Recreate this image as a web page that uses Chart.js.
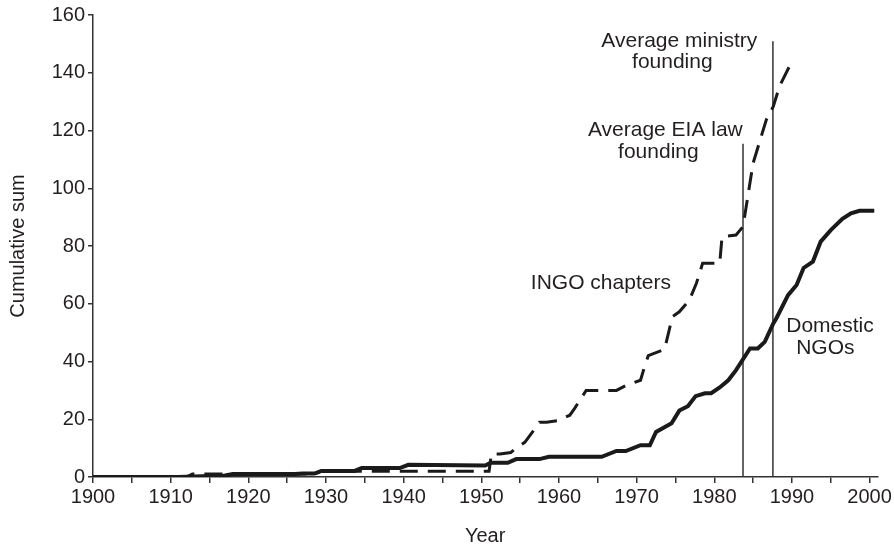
<!DOCTYPE html>
<html>
<head>
<meta charset="utf-8">
<script src="https://cdn.jsdelivr.net/npm/chart.js@4/dist/chart.umd.min.js"></script>
<style>
  html, body { margin: 0; padding: 0; background: #fff; }
  #wrap { width: 894px; height: 548px; }
</style>
</head>
<body>
<div id="wrap"><canvas id="line-chart"></canvas></div>
<script>
  // Domestic NGOs (solid line)
  var ngoYears = [1900, 1911, 1917, 1918, 1926, 1927, 1928.5, 1929.4, 1933.7, 1934.6, 1939.5, 1940.6,
    1950.5, 1951.2, 1953.4, 1954.5, 1957.5, 1958.7, 1965.5, 1967.4, 1968.6, 1970.5, 1971.7, 1972.5,
    1974.5, 1975.5, 1976.6, 1977.6, 1978.8, 1979.6, 1980.7, 1981.8, 1982.8, 1984.6, 1985.6, 1986.5,
    1987.6, 1988, 1989.5, 1990.6, 1991.5, 1992.7, 1993.7, 1995, 1996.5, 1997.6, 1998.7, 2000.6];
  var ngoValues = [0, 0, 0.5, 1, 1, 1.2, 1.2, 2.1, 2.1, 3.1, 3.1, 4.2,
    4, 4.9, 4.9, 6.2, 6.2, 7, 7, 9, 9, 11, 11, 15.6,
    18.6, 23, 24.5, 28, 29, 29, 31, 33.5, 37, 44.5, 44.5, 46.8,
    53.2, 55, 63, 66.5, 72.4, 74.6, 81.5, 85.5, 89.4, 91.3, 92.2, 92.2];

  // INGO chapters (dashed line)
  var ingoYears = [1900, 1912, 1912.8, 1917, 1928.5, 1929.4, 1951, 1951.3, 1952.4, 1953.8, 1954.5,
    1955.6, 1956.7, 1957.5, 1958.4, 1959.9, 1961.4, 1962, 1963.5, 1967.4, 1968.7, 1970.5, 1971,
    1971.5, 1973.6, 1974.6, 1975.5, 1976.8, 1977.7, 1978.5, 1980.7, 1981, 1982.8, 1983.7, 1985,
    1986.7, 1987.6, 1988.4, 1990.1];
  var ingoValues = [0, 0, 1, 1, 1, 2, 2, 8, 8, 8.5, 10,
    12, 16, 19, 19, 19.5, 21.4, 23.7, 30, 30, 31.8, 33.5, 38,
    42, 44.2, 55.5, 57.2, 61.3, 67.1, 74, 74, 83.2, 83.8, 86.7, 108.7,
    123.7, 128.3, 135.3, 144.5];

  // reference lines
  var eiaYear = 1983.7, eiaTop = 115.4;
  var ministryYear = 1987.55, ministryTop = 150.9;

  var xTicks = [1900, 1910, 1920, 1930, 1940, 1950, 1960, 1970, 1980, 1990, 2000];

  function toPoints(xs, ys) {
    var pts = [];
    for (var i = 0; i < xs.length; i++) pts.push({ x: xs[i], y: ys[i] });
    return pts;
  }

  // text labels, anchored in data units
  var notes = [
    { text: 'Average ministry', x: 1975.5, y: 151 },
    { text: 'founding', x: 1974.6, y: 143.8 },
    { text: 'Average EIA law', x: 1973.7, y: 120.2 },
    { text: 'founding', x: 1972.8, y: 112.6 },
    { text: 'INGO chapters', x: 1965.4, y: 67.2 },
    { text: 'Domestic', x: 1994.9, y: 52.3 },
    { text: 'NGOs', x: 1994.3, y: 44.6 }
  ];

  var notePlugin = {
    id: 'notes',
    afterDatasetsDraw: function (chart) {
      var ctx = chart.ctx;
      var xs = chart.scales.x, ys = chart.scales.y;
      ctx.save();
      ctx.fillStyle = '#231f20';
      ctx.font = '21px "Liberation Sans", Arial, sans-serif';
      ctx.textAlign = 'center';
      ctx.textBaseline = 'middle';
      notes.forEach(function (n) {
        ctx.fillText(n.text, xs.getPixelForValue(n.x), ys.getPixelForValue(n.y));
      });
      ctx.restore();
    }
  };

  Chart.defaults.font.family = '"Liberation Sans", Arial, sans-serif';
  Chart.defaults.font.size = 20;
  Chart.defaults.color = '#231f20';

  var ink = '#1a1a1a';

  new Chart(document.getElementById('line-chart'), {
    type: 'line',
    data: {
      datasets: [
        {
          label: 'Domestic NGOs',
          data: toPoints(ngoYears, ngoValues),
          borderColor: ink, borderWidth: 4, pointRadius: 0, tension: 0
        },
        {
          label: 'INGO chapters',
          data: toPoints(ingoYears, ingoValues),
          borderColor: ink, borderWidth: 3, borderDash: [18, 10], pointRadius: 0, tension: 0
        },
        {
          label: 'Average EIA law founding',
          data: [{ x: eiaYear, y: 0 }, { x: eiaYear, y: eiaTop }],
          borderColor: '#333', borderWidth: 1.5, pointRadius: 0
        },
        {
          label: 'Average ministry founding',
          data: [{ x: ministryYear, y: 0 }, { x: ministryYear, y: ministryTop }],
          borderColor: '#333', borderWidth: 1.5, pointRadius: 0
        }
      ]
    },
    options: {
      responsive: true,
      maintainAspectRatio: false,
      animation: false,
      layout: { padding: { top: 15, right: 16, left: 0, bottom: 0 } },
      plugins: { legend: { display: false }, tooltip: { enabled: false } },
      scales: {
        x: {
          type: 'linear',
          min: 1900,
          max: 2001,
          afterFit: function (scale) { scale.height = 71; },
          afterBuildTicks: function (scale) {
            var t = [];
            for (var v = 1900; v <= 2000; v += 5) t.push({ value: v });
            scale.ticks = t;
          },
          ticks: {
            padding: 2,
            autoSkip: false,
            maxRotation: 0,
            callback: function (v) { return xTicks.indexOf(v) >= 0 ? String(v) : ''; }
          },
          grid: { drawOnChartArea: false, drawTicks: true, tickLength: 6, color: '#333', lineWidth: 1.5 },
          border: { color: '#333', width: 1.5 },
          title: { display: true, text: 'Year', padding: { top: 0, bottom: 0 } }
        },
        y: {
          min: 0,
          max: 160,
          afterFit: function (scale) { scale.width = 93; },
          ticks: { stepSize: 20, padding: 3 },
          grid: { drawOnChartArea: false, drawTicks: true, tickLength: 5, color: '#333', lineWidth: 1.5 },
          border: { color: '#333', width: 1.5 },
          title: { display: true, text: 'Cumulative sum', padding: { top: 6, bottom: 0 } }
        }
      }
    },
    plugins: [notePlugin]
  });
</script>
</body>
</html>
